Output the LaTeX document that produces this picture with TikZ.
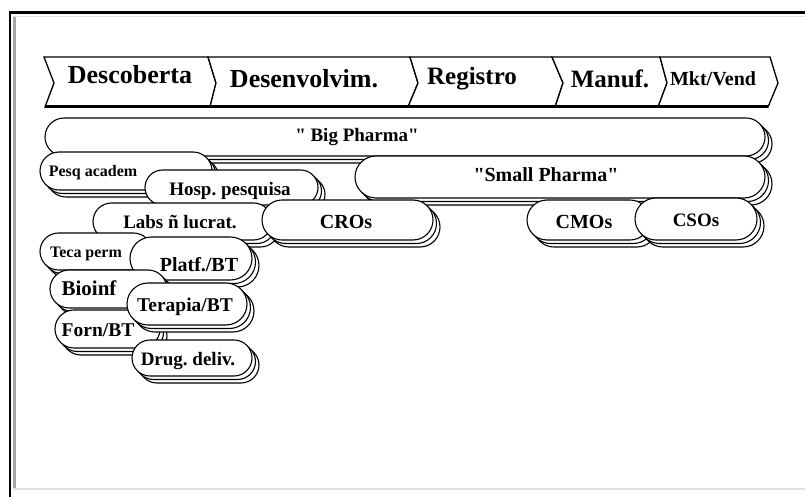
\documentclass[tikz,border=0pt]{standalone}
\usepackage{fontspec}
\setmainfont{Liberation Serif}[Ligatures=TeXOff]
\usetikzlibrary{shapes.misc,shadows}
\frenchspacing
\begin{document}
\begin{tikzpicture}[x=1pt,y=-1pt,
  scroll/.style={rounded rectangle, draw=black, fill=white, line width=1.1pt, inner sep=0pt,
    general shadow={shadow xshift=7pt,shadow yshift=-7pt,fill=white,draw=black,line width=1.1pt},
    general shadow={shadow xshift=3.5pt,shadow yshift=-3.5pt,fill=white,draw=black,line width=1.1pt}},
  txt/.style={font=\bfseries\fontsize{#1}{#1}\selectfont, inner sep=0pt, anchor=base},
  chev/.style={draw=black, fill=white, line width=1.3pt, line join=miter}]
\useasboundingbox (0,0) rectangle (805,497);
% frame
\draw[line width=2.7pt] (10,497) -- (10,12.5) -- (805,12.5);
\draw[gray!70, line width=3pt] (14.5,489) -- (14.5,16);
\draw[gray!25, line width=1.5pt] (13,16.5) -- (805,16.5);
\draw[gray!25, line width=1.5pt] (13,489) -- (805,489);
% stage band
\coordinate (b0t) at (44,57);  \coordinate (b0m) at (54,83);  \coordinate (b0b) at (45,107);
\coordinate (b1t) at (208,57); \coordinate (b1m) at (216,83); \coordinate (b1b) at (210,107);
\coordinate (b2t) at (410,57); \coordinate (b2m) at (418,83); \coordinate (b2b) at (408,107);
\coordinate (b3t) at (552,57); \coordinate (b3m) at (563,83); \coordinate (b3b) at (555,107);
\coordinate (b4t) at (660,57); \coordinate (b4m) at (667,83); \coordinate (b4b) at (658,107);
\coordinate (b5t) at (770,57); \coordinate (b5m) at (778,83); \coordinate (b5b) at (768,107);
\draw[chev] (b0t) -- (b1t) -- (b1m) -- (b1b) -- (b0b) -- (b0m) -- cycle;
\draw[chev] (b1t) -- (b2t) -- (b2m) -- (b2b) -- (b1b) -- (b1m) -- cycle;
\draw[chev] (b2t) -- (b3t) -- (b3m) -- (b3b) -- (b2b) -- (b2m) -- cycle;
\draw[chev] (b3t) -- (b4t) -- (b4m) -- (b4b) -- (b3b) -- (b3m) -- cycle;
\draw[chev] (b4t) -- (b5t) -- (b5m) -- (b5b) -- (b4b) -- (b4m) -- cycle;
\draw[line width=3pt] (b0b) -- (b5b);
\node[txt=26] (st1) at (130,84) {Descoberta};
\node[txt=26] (st2) at (304,88) {Desenvolvim.};
\node[txt=25] (st3) at (472,85) {Registro};
\node[txt=25] (st4) at (610,88) {Manuf.};
\node[txt=20] (st5) at (713,86) {Mkt/Vend};
% scrolls
\node[scroll, minimum width=720pt, minimum height=38pt] (big) at (405,137) {};
\node[txt=19] (bigt) at (357,142) {" Big Pharma"};
\node[scroll, minimum width=172pt, minimum height=38pt] (pesq) at (126,171) {};
\node[txt=16] (pesqt) at (93,177) {Pesq academ};
\node[scroll, minimum width=173pt, minimum height=35pt] (hosp) at (231.5,187.5) {};
\node[txt=19] (hospt) at (230,195) {Hosp. pesquisa};
\node[scroll, minimum width=410pt, minimum height=42pt] (small) at (560,177) {};
\node[txt=20] (smallt) at (546,182) {"Small Pharma"};
\node[scroll, minimum width=179pt, minimum height=37pt] (labs) at (182.5,221.5) {};
\node[txt=19] (labst) at (180,228) {Labs ñ lucrat.};
\node[scroll, minimum width=171pt, minimum height=40pt] (cros) at (347.5,220) {};
\node[txt=20] (crost) at (346,228) {CROs};
\node[scroll, minimum width=123pt, minimum height=40pt] (cmos) at (588.5,220) {};
\node[txt=20] (cmost) at (584,228) {CMOs};
\node[scroll, minimum width=122pt, minimum height=42pt] (csos) at (696,219) {};
\node[txt=19] (csost) at (696,226) {CSOs};
\node[scroll, minimum width=112pt, minimum height=37pt] (teca) at (96,251.5) {};
\node[txt=16] (tecat) at (86,257) {Teca perm};
\node[scroll, minimum width=122pt, minimum height=43pt] (platf) at (191,258.5) {};
\node[txt=20] (platft) at (199,271) {Platf./BT};
\node[scroll, minimum width=117pt, minimum height=38pt] (bioinf) at (108.5,289) {};
\node[txt=21] (bioinft) at (89,295) {Bioinf};
\node[scroll, minimum width=105pt, minimum height=38pt] (forn) at (107.5,329) {};
\node[txt=19.5] (fornt) at (98,336) {Forn/BT};
\node[scroll, minimum width=120pt, minimum height=42pt] (terapia) at (187,304) {};
\node[txt=19.5] (terapiat) at (185,311) {Terapia/BT};
\node[scroll, minimum width=120pt, minimum height=36pt] (drug) at (192,358) {};
\node[txt=19] (drugt) at (188,365) {Drug. deliv.};
\end{tikzpicture}
\end{document}
